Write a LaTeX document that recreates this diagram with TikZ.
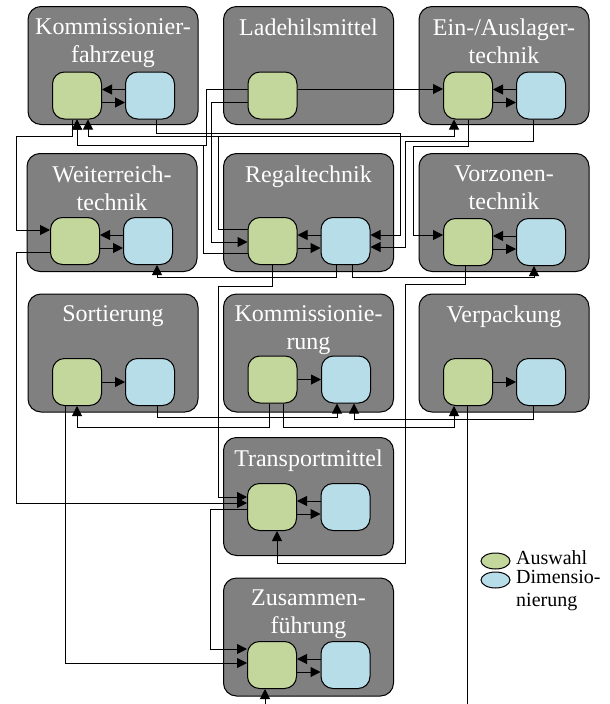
\documentclass[tikz,border=0pt]{standalone}
\usepackage{fontspec}
\setmainfont{Liberation Serif}
\usetikzlibrary{arrows.meta,shapes.geometric}
\definecolor{boxgray}{RGB}{128,128,128}
\definecolor{selgreen}{RGB}{195,214,155}
\definecolor{dimblue}{RGB}{183,221,232}
\begin{document}
\begin{tikzpicture}[x=1pt,y=-1pt,
  bigbox/.style={draw=black, fill=boxgray, rounded corners=13pt, line width=1pt, minimum width=170pt, minimum height=118pt, inner sep=0pt},
  sel/.style={draw=black, fill=selgreen, rounded corners=12pt, minimum width=49pt, minimum height=47pt, inner sep=0pt, line width=1pt},
  dim/.style={draw=black, fill=dimblue, rounded corners=12pt, minimum width=49pt, minimum height=47pt, inner sep=0pt, line width=1pt},
  title/.style={text=white, font=\fontsize{24}{28}\selectfont, align=center, inner sep=0pt, anchor=north},
  legtext/.style={font=\fontsize{20}{23}\selectfont, align=left, inner sep=0pt},
  legmark/.style={ellipse, draw=black, line width=1pt, minimum width=29pt, minimum height=16pt, inner sep=0pt},
  arr/.style={-{Triangle[length=10pt,width=10pt]}, line width=1pt},
  wire/.style={line width=1pt}]
\useasboundingbox (0,0) rectangle (610,704);
% big boxes
\node[bigbox] (KF) at (113,65.5) {};
\node[bigbox] (LH) at (308.5,65.5) {};
\node[bigbox] (EA) at (504,65.5) {};
\node[bigbox] (WR) at (112,212.5) {};
\node[bigbox] (RT) at (308.5,212.5) {};
\node[bigbox] (VZ) at (504,212.5) {};
\node[bigbox] (SO) at (113,353) {};
\node[bigbox] (KO) at (308.5,353) {};
\node[bigbox] (VP) at (504,353) {};
\node[bigbox] (TM) at (308.5,496.5) {};
\node[bigbox] (ZF) at (308.5,637) {};
% titles
\node[title] (KFt) at (113,18.6) {Kommissionier-\\fahrzeug};
\node[title] (LHt) at (308.5,18.6) {Ladehilsmittel};
\node[title] (EAt) at (504,18.6) {Ein-/Auslager-\\technik};
\node[title] (WRt) at (112,165.6) {Weiterreich-\\technik};
\node[title] (RTt) at (308.5,165.6) {Regaltechnik};
\node[title] (VZt) at (504,165.6) {Vorzonen-\\technik};
\node[title] (SOt) at (113,305.6) {Sortierung};
\node[title] (KOt) at (308.5,305.6) {Kommissionie-\\rung};
\node[title] (VPt) at (504,305.6) {Verpackung};
\node[title] (TMt) at (308.5,449.6) {Transportmittel};
\node[title] (ZFt) at (308.5,589.6) {Zusammen-\\führung};
% small boxes
\node[sel] (KFg) at (77,95.5) {};   \node[dim] (KFb) at (150,95.5) {};
\node[sel] (LHg) at (272.5,95.5) {};
\node[sel] (EAg) at (468,95.5) {};  \node[dim] (EAb) at (541,95.5) {};
\node[sel] (WRg) at (75,241) {};    \node[dim] (WRb) at (148,241) {};
\node[sel] (RTg) at (272.5,241) {}; \node[dim] (RTb) at (345.5,241) {};
\node[sel] (VZg) at (468,242) {};   \node[dim] (VZb) at (541,242) {};
\node[sel] (SOg) at (77,382) {};    \node[dim] (SOb) at (150,382) {};
\node[sel] (KOg) at (272.5,379.5) {}; \node[dim] (KOb) at (346,379.5) {};
\node[sel] (VPg) at (468,382) {};   \node[dim] (VPb) at (541,382) {};
\node[sel] (TMg) at (272,507) {};   \node[dim] (TMb) at (345.5,507) {};
\node[sel] (ZFg) at (272,665) {};   \node[dim] (ZFb) at (345.5,665) {};
% internal arrows
\foreach \m in {KF,EA,WR,RT,VZ,TM,ZF}{
  \draw[arr] ([yshift=6pt]\m b.west) -- ([yshift=6pt]\m g.east);
  \draw[arr] ([yshift=-7pt]\m g.east) -- ([yshift=-7pt]\m b.west);
}
\foreach \m in {SO,KO,VP}{
  \draw[arr] (\m g.east) -- (\m b.west);
}
% connectors, row 1 to row 2
\draw[arr] ([xshift=-5pt]KFg.south) |- (16,136) |- ([yshift=11pt]WRg.west);
\draw[arr] ([yshift=6.5pt]LHg.east) -- ([yshift=6.5pt]EAg.west);
\draw[arr] ([yshift=-6.5pt]LHg.west) -| (211,242) -- ([yshift=-1pt]RTg.west);
\draw[arr] ([yshift=6.5pt]LHg.west) -| (206,145) -| (KFg.south);
\draw[arr] ([yshift=12pt]RTg.west) -| (218,136) -| ([xshift=-14pt]EAg.south);
\draw[arr] ([yshift=12pt]RTg.west) -| (218,136) -| ([xshift=11pt]KFg.south);
\draw[arr] ([yshift=-12pt]RTg.west) -| (203,145) -| (KFg.south);
\draw[arr] ([xshift=6pt]KFb.south) |- (400,133) |- ([yshift=6pt]RTb.east);
\draw[arr] ([xshift=-8pt]EAb.south) |- (405,141) |- ([yshift=-6pt]RTb.east);
\draw[arr] (EAg.south) |- (413,146) |- ([yshift=7pt]VZg.west);
% row 2 to row 3 and below
\draw[arr] ([xshift=-9pt]RTb.south) |- (157,277) -- ([xshift=9pt]WRb.south);
\draw[arr] ([xshift=7pt]RTb.south) |- (534,277) -- ([xshift=-7pt]VZb.south);
\draw[arr] ([yshift=-11pt]WRg.west) -| (16,503) -- ([yshift=4pt]TMg.west);
\draw[arr] (RTg.south) |- (218,286) |- ([yshift=10pt]TMg.west);
\draw[arr] ([xshift=-3pt]VZg.south) |- (405,284) |- (277,563) -- ([xshift=5pt]TMg.south);
\draw[arr] ([xshift=-3pt]KOg.south) |- (77,427) -- (SOg.south);
\draw[arr] ([xshift=11pt]KOg.south) |- (454,427) -- ([xshift=-14pt]VPg.south);
\draw[arr] ([xshift=-12pt]SOg.south) |- ([yshift=2pt]ZFg.west);
\draw[arr] ([yshift=-2pt]TMg.west) -| (210,649) -- ([yshift=16pt]ZFg.west);
\draw[arr] ([xshift=7pt]SOb.south) |- (337,417) -- ([xshift=-9pt]KOb.south);
\draw[arr] ([xshift=-8pt]VPb.south) |- (354,419) -- ([xshift=8pt]KOb.south);
\coordinate (endVP) at (467,704);
\coordinate (startZF) at (265,704);
\draw[wire] ([xshift=-1pt]VPg.south) -- (endVP);
\draw[arr] (startZF) -- ([xshift=-7pt]ZFg.south);
% legend
\node[legmark, fill=selgreen] (legS) at (495.5,561) {};
\node[legmark, fill=dimblue] (legD) at (495.5,580) {};
\node[legtext, anchor=base west] (legSt) at (516,564.5) {Auswahl};
\node[legtext, anchor=north west] (legDt) at (516,570.5) {Dimensio-\\nierung};
\end{tikzpicture}
\end{document}
